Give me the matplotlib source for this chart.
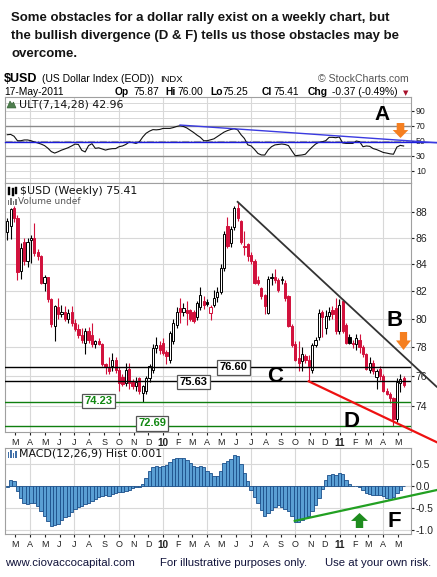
import matplotlib
matplotlib.use("Agg")
import matplotlib.pyplot as plt
import matplotlib.dates as mdates
from matplotlib.patches import Polygon, Rectangle
from matplotlib.ticker import NullLocator
import pandas as pd

W, H = 437, 577

# weekly $USD candles, Feb 2009 - May 2011
weeks = pd.date_range("2009-02-13", periods=118, freq="7D")

opens = [86.4, 86.9, 88.3, 87.5, 83.5, 85.7, 84.2, 85.8, 86.0, 84.9,
         84.6, 82.6, 83.0, 81.4, 79.5, 80.8, 80.3, 80.45, 80.0, 80.5,
         79.7, 79.25, 78.8, 78.3, 79.1, 78.8, 78.2, 78.4, 78.2, 76.8,
         76.55, 76.65, 77.1, 76.4, 75.95, 75.5, 76.5, 75.6, 75.3, 75.85,
         74.85, 74.95, 75.85, 76.4, 77.9, 78.1, 78.25, 77.65, 77.1, 78.4,
         79.55, 80.75, 80.5, 80.6, 80.6, 80.5, 80.1, 80.85, 81.3, 81.2,
         80.4, 80.98, 81.55, 81.95, 83.7, 86.9, 85.6, 86.8, 88.3, 87.3,
         85.4, 85.5, 84.7, 84.2, 82.8, 82.2, 81.7, 80.4, 82.95, 83.0,
         82.8, 82.8, 82.6, 81.6, 79.5, 78.2, 77.2, 77.0, 77.35, 77.1,
         76.4, 78.15, 78.7, 80.5, 79.3, 80.2, 80.6, 80.75, 79.1, 81.3,
         79.55, 78.7, 78.3, 78.2, 78.5, 78.0, 77.5, 76.4, 76.9, 75.9,
         76.5, 75.96, 75.0, 74.8, 74.5, 73.1, 75.5, 75.87]
highs = [87.5, 88.3, 88.5, 87.8, 85.6, 86.0, 86.0, 86.2, 87.1, 85.1,
         84.7, 83.2, 83.0, 81.5, 81.0, 81.5, 81.0, 80.9, 80.7, 80.9,
         80.0, 79.6, 79.3, 79.3, 79.4, 79.7, 78.5, 78.6, 78.3, 76.9,
         77.3, 77.55, 77.3, 76.6, 76.1, 76.9, 76.9, 75.8, 75.9, 75.95,
         75.4, 76.0, 76.8, 78.2, 78.7, 78.4, 78.6, 77.8, 79.1, 80.0,
         80.8, 81.5, 81.1, 81.3, 80.7, 80.6, 81.3, 82.3, 81.6, 81.4,
         81.0, 82.1, 82.3, 84.0, 86.5, 87.6, 86.9, 88.5, 88.8, 87.4,
         86.5, 85.6, 84.9, 84.4, 83.1, 82.3, 81.8, 83.1, 83.3, 83.6,
         82.95, 83.1, 82.8, 81.7, 79.6, 78.4, 78.4, 78.0, 77.5, 77.4,
         78.3, 78.7, 80.7, 80.6, 80.6, 80.8, 80.9, 81.5, 81.4, 81.4,
         79.7, 78.9, 78.5, 78.9, 78.9, 78.1, 77.6, 77.3, 77.1, 76.5,
         76.7, 76.1, 75.2, 74.9, 74.6, 75.85, 76.1, 76.0]
lows = [85.8, 85.9, 87.2, 82.8, 82.9, 83.9, 83.8, 84.1, 84.6, 84.3,
        82.5, 82.0, 81.2, 79.4, 78.4, 80.0, 80.1, 79.8, 79.7, 79.5,
        79.1, 78.6, 78.3, 77.5, 78.3, 78.0, 77.9, 78.1, 76.7, 76.1,
        76.1, 76.3, 76.2, 75.0, 75.3, 75.3, 75.1, 75.1, 75.0, 74.8,
        74.23, 74.8, 75.6, 76.2, 77.6, 77.5, 77.4, 76.8, 76.9, 78.2,
        79.3, 79.7, 80.2, 79.55, 79.8, 79.65, 79.9, 80.6, 80.7, 80.9,
        79.9, 80.8, 81.2, 81.8, 83.5, 85.2, 85.3, 86.6, 87.3, 85.5,
        84.7, 84.2, 84.0, 82.5, 82.4, 81.4, 80.3, 80.3, 82.4, 82.6,
        81.9, 82.5, 81.3, 79.4, 78.0, 77.0, 76.3, 76.3, 76.9, 75.63,
        76.2, 78.0, 78.5, 78.7, 78.9, 79.9, 80.0, 78.9, 78.9, 79.0,
        78.2, 78.2, 77.9, 77.8, 77.6, 77.3, 76.4, 76.2, 76.1, 75.1,
        75.7, 74.9, 74.7, 74.2, 72.69, 72.9, 74.9, 75.25]
closes = [87.3, 88.2, 87.5, 83.4, 85.2, 84.2, 85.7, 86.0, 84.8, 84.6,
          82.6, 83.0, 81.4, 79.6, 80.9, 80.3, 80.45, 79.95, 80.4, 79.7,
          79.25, 78.8, 78.5, 79.1, 78.5, 78.2, 78.4, 78.2, 76.8, 76.6,
          76.3, 77.1, 76.4, 75.5, 75.45, 76.4, 75.5, 75.3, 75.6, 74.95,
          75.3, 75.85, 76.65, 77.9, 78.1, 77.75, 77.55, 77.35, 78.95, 79.65,
          80.5, 80.45, 80.75, 80.4, 80.0, 79.8, 81.1, 81.7, 81.0, 81.05,
          80.85, 81.47, 81.95, 83.7, 86.3, 85.4, 86.7, 88.3, 87.5, 85.7,
          85.25, 84.6, 84.2, 82.6, 82.55, 81.6, 80.9, 82.9, 83.05, 82.8,
          82.1, 82.9, 81.5, 79.5, 78.1, 77.1, 76.9, 77.5, 77.1, 76.65,
          78.15, 78.5, 80.4, 80.1, 80.2, 80.5, 80.3, 79.1, 81.0, 79.1,
          78.3, 78.3, 78.2, 78.6, 78.0, 77.5, 76.5, 76.9, 76.3, 76.35,
          76.0, 74.95, 74.8, 74.5, 73.1, 75.6, 75.78, 75.41]

ult = [58, 58.4, 56, 50, 50, 51, 51, 50, 48.3, 47,
       45.5, 43.5, 40, 35.5, 33.5, 35.3, 37.4, 39, 40.7, 43,
       45.5, 45, 37.2, 35, 43.5, 46, 39.8, 40.5, 39, 37.5,
       38.7, 39.4, 39.5, 42, 43, 45, 48.2, 47.5, 46.4, 48.5,
       55, 60, 62.8, 64.8, 64.5, 65, 66.4, 66.4, 66.4, 67.5,
       69, 70, 69, 67, 64, 61, 57.5, 54.5, 50, 50,
       51.2, 52.5, 55.5, 58.5, 61.5, 63.5, 65, 66, 64.5, 58,
       53, 44.5, 43, 38.3, 33, 31, 30.9, 37.6, 42, 44.4,
       45, 45.6, 45, 43.5, 36.5, 30, 30.5, 31, 32, 37,
       41.5, 45.5, 48, 48.7, 50, 54.5, 54.5, 54, 55, 47,
       46.4, 46.4, 46.4, 49.6, 48.7, 42, 43, 42.5, 39.5, 38.2,
       36.3, 34.3, 33.5, 32.5, 32, 41.5, 43.8, 42.96]

macd_hist = [-0.02, 0.12, 0.11, -0.12, -0.28, -0.40, -0.41, -0.39, -0.40, -0.47,
             -0.58, -0.68, -0.81, -0.92, -0.90, -0.86, -0.78, -0.72, -0.69, -0.59,
             -0.52, -0.48, -0.46, -0.42, -0.39, -0.34, -0.31, -0.26, -0.23, -0.21,
             -0.23, -0.20, -0.16, -0.14, -0.14, -0.13, -0.09, -0.06, -0.04, -0.02,
             0.03, 0.18, 0.34, 0.42, 0.44, 0.43, 0.44, 0.48, 0.55, 0.60,
             0.63, 0.64, 0.63, 0.59, 0.52, 0.45, 0.43, 0.44, 0.43, 0.34,
             0.28, 0.23, 0.22, 0.34, 0.52, 0.57, 0.60, 0.69, 0.67, 0.49,
             0.30, 0.10, -0.09, -0.25, -0.39, -0.55, -0.69, -0.63, -0.55, -0.48,
             -0.45, -0.48, -0.54, -0.57, -0.70, -0.82, -0.83, -0.78, -0.74, -0.68,
             -0.58, -0.45, -0.27, -0.07, 0.13, 0.25, 0.27, 0.24, 0.29, 0.26,
             0.14, 0.04, 0.00, -0.01, -0.04, -0.10, -0.16, -0.18, -0.21, -0.21,
             -0.21, -0.23, -0.28, -0.30, -0.26, -0.16, -0.09, 0.001]

price_ticks = [74, 76, 78, 80, 82, 84, 86, 88]
ult_ticks = [10, 30, 50, 70, 90]
macd_ticks = [0.5, 0.0, -0.5, -1.0]

black_levels = [76.60, 75.63]
green_levels = [74.23, 72.69]

# hand-drawn trend lines: (dates, values)
resist_line = (["2010-06-04", "2011-07-20"], [88.8, 75.27])
d_line = (["2010-10-29", "2011-07-20"], [75.63, 71.63])
ult_trend = (["2010-02-05", "2011-07-20"], [70.9, 47.3])
ult_flat = 47.9
macd_trend = (["2010-09-30", "2011-07-20"], [-0.80, -0.10])

RED = "#d2113c"
GRID = "#d8d8d8"

plt.rcParams["font.family"] = ["Liberation Sans", "DejaVu Sans"]
plt.rcParams["axes.unicode_minus"] = False

fig = plt.figure(figsize=(W / 100, H / 100), dpi=100)


def fx(px):
    return px / W


def fy(py):
    return 1 - py / H


def panel(top, bottom):
    return fig.add_axes([fx(5), fy(bottom), fx(411) - fx(5), fy(top) - fy(bottom)])


ax_u = panel(97, 183)
ax_p = panel(183, 432)
ax_m = panel(448, 534)

x = mdates.date2num(weeks)
x_apr = mdates.date2num(pd.Timestamp("2009-04-01"))
xlim = (x_apr - 51.65, x_apr + 787.2)
quarters = mdates.date2num(pd.date_range("2009-04-01", "2011-04-01", freq="QS-JAN"))
months = pd.date_range("2009-03-01", "2011-05-01", freq="MS")
month_labels = [str(m.year)[2:] if m.month == 1 else m.strftime("%b")[0] for m in months]

for ax in (ax_u, ax_p, ax_m):
    ax.set_xlim(*xlim)
    for s in ax.spines.values():
        s.set_color("#a0a0a0")
        s.set_linewidth(0.8)
    for q in quarters:
        ax.axvline(q, color=GRID, lw=0.8, zorder=0)
    ax.yaxis.tick_right()
    ax.tick_params(axis="y", length=2, pad=1.5, colors="#222222", labelsize=7.5)
    ax.tick_params(axis="x", length=2, pad=2.5, colors="#222222", labelsize=6.5)

# --- ULT panel ---
ax_u.set_ylim(-6.4, 108.3)
for v in range(0, 101, 10):
    ax_u.axhline(v, color=GRID, lw=0.7, zorder=0)
ax_u.axhline(70, color="#8a8a8a", lw=1.0, zorder=1)
ax_u.axhline(30, color="#8a8a8a", lw=1.0, zorder=1)
ax_u.axhline(50, color="#9a9a9a", lw=0.8, ls="-.", zorder=1)
ax_u.plot(x, ult, color="#111111", lw=0.8, zorder=3)
ax_u.set_yticks(ult_ticks)
ax_u.set_yticklabels([str(v) for v in ult_ticks])
ax_u.tick_params(axis="y", labelsize=6.3)
ax_u.set_xticks([])
ax_u.plot([xlim[0], x_apr + 841], [ult_flat, ult_flat], color="#1c1cdc", lw=1.0,
          clip_on=False, zorder=4)
ax_u.plot(mdates.date2num(pd.to_datetime(ult_trend[0])), ult_trend[1],
          color="#3a3ae0", lw=1.0, clip_on=False, zorder=4)

# --- price panel ---
ax_p.set_yscale("log")
ax_p.set_ylim(72.28, 90.31)
ax_p.yaxis.set_minor_locator(NullLocator())
ax_p.set_yticks(price_ticks)
ax_p.set_yticklabels([str(v) for v in price_ticks])
for v in price_ticks:
    ax_p.axhline(v, color=GRID, lw=0.8, zorder=0)

for i in range(len(x)):
    o, h, l, c = opens[i], highs[i], lows[i], closes[i]
    prev = closes[i - 1] if i else o
    col = RED if c < prev else "black"
    ax_p.vlines(x[i], l, h, color=col, lw=0.8, zorder=3)
    body = max(abs(c - o), 0.04)
    ax_p.bar(x[i], body, bottom=min(o, c), width=4.6,
             color="white" if c >= o else col, edgecolor=col, lw=0.7, zorder=4)

for v in black_levels:
    ax_p.axhline(v, color="black", lw=1.0, zorder=5)
for v in green_levels:
    ax_p.axhline(v, color="#0f7f0f", lw=1.0, zorder=5)

ax_p.plot(mdates.date2num(pd.to_datetime(resist_line[0])), resist_line[1],
          color="#333333", lw=1.3, clip_on=False, zorder=6)
ax_p.plot(mdates.date2num(pd.to_datetime(d_line[0])), d_line[1],
          color="#ee1111", lw=1.6, clip_on=False, zorder=6)

ax_p.set_xticks(mdates.date2num(months))
ax_p.set_xticklabels(month_labels)

# --- MACD panel ---
ax_m.set_ylim(-1.098, 0.857)
for v in macd_ticks:
    ax_m.axhline(v, color=GRID, lw=0.8, zorder=0)
ax_m.bar(x, macd_hist, width=7, color="#5a9fd4", edgecolor="#1b4f8a", lw=0.6, zorder=3)
ax_m.set_yticks(macd_ticks)
ax_m.set_yticklabels([f"{v:.1f}" for v in macd_ticks])
ax_m.set_xticks(mdates.date2num(months))
ax_m.set_xticklabels(month_labels)
ax_m.plot(mdates.date2num(pd.to_datetime(macd_trend[0])), macd_trend[1],
          color="#22a022", lw=1.6, clip_on=False, zorder=6)

for ax in (ax_p, ax_m):
    for lab, m in zip(ax.get_xticklabels(), months):
        if m.month == 1:
            lab.set_fontweight("bold")
            lab.set_fontsize(7.2)

# --- title ---
title_lines = ["Some obstacles for a dollar rally exist on a weekly chart, but",
               "the bullish divergence (D & F) tells us those obstacles may be",
               "overcome."]
for j, line in enumerate(title_lines):
    fig.text(fx(11), fy(20.7 + 18 * j), line, fontsize=9.5, fontweight="bold",
             color="#141414", va="baseline")

# --- header rows ---
fig.text(fx(4), fy(82.5), "$USD", fontsize=9, fontweight="bold", va="baseline")
fig.text(fx(42), fy(82.5), "(US Dollar Index (EOD))", fontsize=7.5, va="baseline")
fig.text(fx(160), fy(82.5), "INDX", fontsize=6.8, va="baseline")
fig.text(fx(409), fy(82.5), "\u00a9 StockCharts.com", fontsize=7.6, color="#555555",
         va="baseline", ha="right")
fig.text(fx(4), fy(95), "17-May-2011", fontsize=7.4, va="baseline")
row2 = [("Op", 115, "bold"), ("75.87", 133, "normal"), ("Hi", 165, "bold"),
        ("76.00", 177, "normal"), ("Lo", 210, "bold"), ("75.25", 222, "normal"),
        ("Cl", 262, "bold"), ("75.41", 273, "normal"), ("Chg", 308, "bold"),
        ("-0.37 (-0.49%)", 332, "normal")]
for txt, px, wt in row2:
    fig.text(fx(px), fy(95), txt, fontsize=7.4, fontweight=wt, va="baseline")
fig.text(fx(406), fy(95), "\u25bc", fontsize=5, color="#a8102a", va="baseline",
         ha="center", family="DejaVu Sans")

# --- panel legends ---
fig.text(fx(19), fy(104.5), "ULT(7,14,28) 42.96", fontsize=7.9, va="center",
         family="DejaVu Sans", color="#111111")
fig.add_artist(Polygon([(fx(7), fy(108)), (fx(10), fy(101)), (fx(12), fy(104)),
                        (fx(13.5), fy(102)), (fx(16), fy(108))], closed=True,
                       fc="#4f7f4f", ec="#2f5f2f", lw=0.4, transform=fig.transFigure))
fig.text(fx(20), fy(191.5), "$USD (Weekly) 75.41", fontsize=7.9, va="center",
         family="DejaVu Sans", color="#111111")
for bx, by0, by1 in [(8, 187, 195), (11.5, 188, 196), (15, 187, 194)]:
    fig.add_artist(Rectangle((fx(bx), fy(by1)), fx(2), fy(by0) - fy(by1),
                             fc="black", ec="black", lw=0.3, transform=fig.transFigure))
fig.text(fx(18), fy(201.5), "Volume undef", fontsize=6.5, va="center",
         family="DejaVu Sans", color="#555555")
for bx, bh in [(7.5, 5), (10, 7), (12.5, 4), (15, 6)]:
    fig.add_artist(Rectangle((fx(bx), fy(205)), fx(1.8), fy(205 - bh) - fy(205),
                             fc="#777777", ec="none", transform=fig.transFigure))
fig.text(fx(19), fy(454), "MACD(12,26,9) Hist 0.001", fontsize=7.9, va="center",
         family="DejaVu Sans", color="#111111")
for bx, bh in [(7.5, 6), (10, 8), (12.5, 5), (15, 7)]:
    fig.add_artist(Rectangle((fx(bx), fy(458)), fx(1.8), fy(458 - bh) - fy(458),
                             fc="#3f6fa8", ec="none", transform=fig.transFigure))

# --- level labels ---
level_boxes = [("76.60", 233.5, 367.5, "black"), ("75.63", 193.5, 382, "black"),
               ("74.23", 98.5, 401, "#118811"), ("72.69", 152, 423.5, "#118811")]
for txt, cx, cy, col in level_boxes:
    fig.text(fx(cx), fy(cy), txt, fontsize=8, fontweight="bold", color=col,
             ha="center", va="center",
             bbox=dict(boxstyle="square,pad=0.22", fc="white", ec="#555555", lw=0.9))

# --- letters ---
letters = [("A", 382.5, 120, 15), ("B", 394.5, 326, 16), ("C", 275, 382, 16),
           ("D", 351.5, 427, 16), ("F", 394, 527, 16)]
for txt, cx, by, fs in letters:
    fig.text(fx(cx), fy(by), txt, fontsize=fs, fontweight="bold", color="black",
             ha="center", va="baseline")


def block_arrow(cx, y_tail, y_tip, half_head, half_shaft, color):
    ymid = y_tail + (y_tip - y_tail) * 0.47
    pts = [(cx - half_shaft, y_tail), (cx + half_shaft, y_tail), (cx + half_shaft, ymid),
           (cx + half_head, ymid), (cx, y_tip), (cx - half_head, ymid),
           (cx - half_shaft, ymid)]
    fig.add_artist(Polygon([(fx(a), fy(b)) for a, b in pts], closed=True, fc=color,
                           ec="none", transform=fig.transFigure))


block_arrow(400.5, 123, 138, 7.8, 3.8, "#f57f20")
block_arrow(403.5, 332, 350, 7.5, 3.6, "#f57f20")
block_arrow(359.5, 528, 513, 8.5, 3.7, "#1e8c1e")

# --- footer ---
foot = [("www.ciovaccocapital.com", 5), ("For illustrative purposes only.", 160),
        ("Use at your own risk.", 325)]
for txt, px in foot:
    fig.text(fx(px), fy(566), txt, fontsize=8.2, color="#10123a", va="baseline")

fig.savefig("out.png", dpi=100)
